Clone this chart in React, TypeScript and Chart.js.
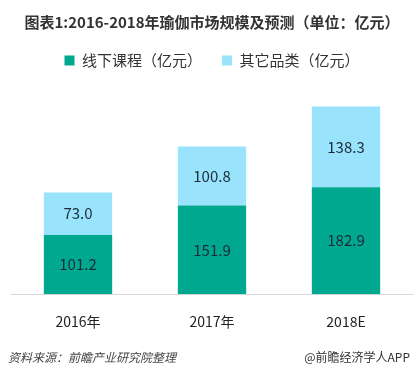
import React, { useEffect, useRef } from "react";
import { Chart, registerables } from "chart.js";

Chart.register(...registerables);

const categories = ["2016年", "2017年", "2018E"];
const offlineCourses = [101.2, 151.9, 182.9];
const otherCategories = [73.0, 100.8, 138.3];
const seriesNames = ["线下课程（亿元）", "其它品类（亿元）"];
const titleText = "图表1:2016-2018年瑜伽市场规模及预测（单位：亿元）";
const sourceText = "资料来源：前瞻产业研究院整理";
const brandText = "@前瞻经济学人APP";

const FONT = "'Noto Sans CJK SC', 'Noto Sans', sans-serif";

const labelPlugin = {
  id: "barLabels",
  afterDatasetsDraw(chart: any) {
    const ctx = chart.ctx;
    ctx.save();
    ctx.font = `15px ${FONT}`;
    ctx.fillStyle = "#1c2a38";
    ctx.textAlign = "center";
    ctx.textBaseline = "middle";
    chart.data.datasets.forEach((ds: any, di: number) => {
      const meta = chart.getDatasetMeta(di);
      meta.data.forEach((el: any, i: number) => {
        const v = ds.data[i];
        const y = (el.y + el.base) / 2;
        ctx.fillText(v.toFixed(1), el.x, y);
      });
    });
    ctx.restore();
  },
};

const footerPlugin = {
  id: "footer",
  afterDraw(chart: any) {
    const ctx = chart.ctx;
    ctx.save();
    ctx.textBaseline = "middle";
    ctx.font = `italic 12px ${FONT}`;
    ctx.fillStyle = "#444";
    ctx.textAlign = "left";
    ctx.fillText(sourceText, 8, 357);
    ctx.font = `12px ${FONT}`;
    ctx.fillStyle = "#333";
    ctx.textAlign = "right";
    ctx.fillText(brandText, 410, 357);
    ctx.restore();
  },
};

export default function App() {
  const ref = useRef<HTMLCanvasElement>(null);
  useEffect(() => {
    if (!ref.current) return;
    const chart = new Chart(ref.current, {
      type: "bar",
      data: {
        labels: categories,
        datasets: [
          {
            label: seriesNames[0],
            data: offlineCourses,
            backgroundColor: "#00a88f",
            barPercentage: 0.51,
            categoryPercentage: 1,
          },
          {
            label: seriesNames[1],
            data: otherCategories,
            backgroundColor: "#99e3fd",
            barPercentage: 0.51,
            categoryPercentage: 1,
          },
        ],
      },
      options: {
        responsive: false,
        animation: false,
        devicePixelRatio: 1,
        layout: { padding: { left: 11, right: 5, top: 0, bottom: 28 } },
        plugins: {
          title: {
            display: true,
            text: titleText,
            color: "#333",
            font: { family: FONT, size: 15, weight: "bold" },
            padding: { top: 13, bottom: 2 },
          },
          legend: {
            display: true,
            labels: {
              boxWidth: 10,
              boxHeight: 10,
              padding: 20,
              color: "#333",
              font: { family: FONT, size: 15 },
            },
          },
          tooltip: { enabled: false },
        },
        scales: {
          x: {
            stacked: true,
            grid: { display: false, drawTicks: false },
            border: { display: true, color: "#d9d9d9" },
            ticks: { color: "#222", font: { family: FONT, size: 14 }, padding: 19 },
          },
          y: {
            stacked: true,
            display: false,
            min: 0,
            max: 370,
          },
        },
      },
      plugins: [labelPlugin, footerPlugin],
    });
    return () => chart.destroy();
  }, []);
  return (
    <div style={{ position: "fixed", left: 0, top: 0, width: 418, height: 377, background: "#fff" }}>
      <canvas ref={ref} width={418} height={377} style={{ display: "block" }} />
    </div>
  );
}
